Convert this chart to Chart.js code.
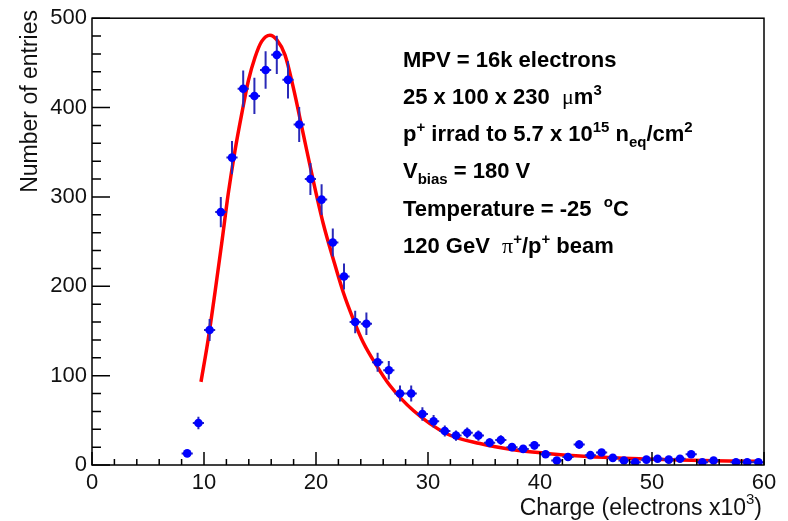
<!DOCTYPE html>
<html>
<head>
<meta charset="utf-8">
<script src="https://cdn.jsdelivr.net/npm/chart.js@4.4.1/dist/chart.umd.min.js"></script>
<style>
html, body { margin: 0; padding: 0; background: #fff; }
#wrap { width: 788px; height: 521px; }
</style>
</head>
<body>
<div id="wrap"><canvas id="myChart" width="788" height="521"></canvas></div>
<script>
// histogram bins, charge in units of 10^3 electrons (bin centres)
const binCenters = [8.5, 9.5, 10.5, 11.5, 12.5, 13.5, 14.5, 15.5, 16.5, 17.5,
  18.5, 19.5, 20.5, 21.5, 22.5, 23.5, 24.5, 25.5, 26.5, 27.5,
  28.5, 29.5, 30.5, 31.5, 32.5, 33.5, 34.5, 35.5, 36.5, 37.5,
  38.5, 39.5, 40.5, 41.5, 42.5, 43.5, 44.5, 45.5, 46.5, 47.5,
  48.5, 49.5, 50.5, 51.5, 52.5, 53.5, 54.5, 55.5, 56.5, 57.5,
  58.5, 59.5];
const entries = [13, 47, 151, 283, 344, 421, 413, 442, 459, 431,
  381, 320, 297, 249, 211, 160, 158, 115, 106, 80,
  80, 57, 49, 38, 33, 36, 33, 25, 28, 20,
  18, 22, 12, 5, 9, 23, 11, 14, 8, 5,
  3, 6, 7, 6, 7, 12, 3, 5, null, 3,
  3, 3];

// fitted curve
const fitX = [9.73, 10.38, 10.98, 11.58, 12.17, 12.77, 13.37, 13.96, 14.55, 15.15,
  15.89, 16.49, 17.23, 17.98, 18.87, 19.76, 20.65, 21.55, 22.44, 23.33,
  24.22, 25.42, 26.6, 28.69, 31.67, 34.64, 37.62, 40.6, 43.57, 46.5,
  49.5, 52.5, 55.5, 59.6];
const fitY = [93, 141, 193, 248, 304, 352, 393, 430, 456, 474,
  481, 476, 459, 422, 370, 318, 270, 230, 193, 163,
  137, 111, 89, 61, 35, 24, 17, 13, 10, 8,
  6.7, 5.6, 4.8, 4.1];

const xTickLabels = [0, 10, 20, 30, 40, 50, 60];
const yTickLabels = [0, 100, 200, 300, 400, 500];

// text box lines: [text, kind]
const infoLines = [
  [["MPV = 16k electrons", "n"]],
  [["25 x 100 x 230  ", "n"], ["\u03bc", "sym"], ["m", "n"], ["3", "sup"]],
  [["p", "n"], ["+", "sup"], [" irrad to 5.7 x 10", "n"], ["15", "sup"], [" n", "n"], ["eq", "sub"], ["/cm", "n"], ["2", "sup"]],
  [["V", "n"], ["bias", "sub"], [" = 180 V", "n"]],
  [["Temperature = -25  ", "n"], ["o", "sup"], ["C", "n"]],
  [["120 GeV  ", "n"], ["\u03c0", "sym"], ["+", "sup"], ["/p", "n"], ["+", "sup"], [" beam", "n"]]
];

const FONT = '"Liberation Sans", Arial, sans-serif';

function drawRich(ctx, x, y, parts) {
  parts.forEach(([txt, kind]) => {
    let font = 'bold 22px ' + FONT, dy = 0;
    if (kind === 'sup') { font = 'bold 15px ' + FONT; dy = -9; }
    if (kind === 'sub') { font = 'bold 15px ' + FONT; dy = 6; }
    if (kind === 'sym') { font = '22px "Liberation Serif", serif'; }
    ctx.font = font;
    ctx.fillText(txt, x, y + dy);
    x += ctx.measureText(txt).width;
  });
}

const rootStyle = {
  id: 'rootStyle',
  beforeDatasetDraw(chart, args) {
    if (args.index !== 0) return;
    const xs = chart.scales.x, ys = chart.scales.y, ctx = chart.ctx;
    ctx.save();
    ctx.strokeStyle = '#2a2ab8';
    ctx.lineWidth = 2;
    binCenters.forEach((c, i) => {
      const n = entries[i];
      if (n == null) return;
      const e = Math.sqrt(n);
      const px = xs.getPixelForValue(c), py = ys.getPixelForValue(n);
      ctx.beginPath();
      ctx.moveTo(xs.getPixelForValue(c - 0.5), py);
      ctx.lineTo(xs.getPixelForValue(c + 0.5), py);
      ctx.moveTo(px, ys.getPixelForValue(n - e));
      ctx.lineTo(px, ys.getPixelForValue(n + e));
      ctx.stroke();
    });
    ctx.restore();
  },
  afterDraw(chart) {
    const ctx = chart.ctx, a = chart.chartArea;
    const xs = chart.scales.x, ys = chart.scales.y;
    ctx.save();
    // frame
    ctx.strokeStyle = '#000';
    ctx.lineWidth = 1.5;
    ctx.strokeRect(a.left, a.top, a.right - a.left, a.bottom - a.top);
    // ticks inside the frame
    ctx.beginPath();
    for (let v = 0; v <= 60; v += 2) {
      const px = xs.getPixelForValue(v);
      const len = v % 10 === 0 ? 13 : 6;
      ctx.moveTo(px, a.bottom);
      ctx.lineTo(px, a.bottom - len);
    }
    for (let v = 0; v <= 500; v += 20) {
      const py = ys.getPixelForValue(v);
      const len = v % 100 === 0 ? 18 : 9;
      ctx.moveTo(a.left, py);
      ctx.lineTo(a.left + len, py);
    }
    ctx.stroke();

    // axis titles
    ctx.fillStyle = '#111';
    ctx.textBaseline = 'alphabetic';
    ctx.textAlign = 'left';
    const t1 = 'Charge (electrons x10', t2 = ')';
    ctx.font = '15px ' + FONT;
    const w3 = ctx.measureText('3').width;
    ctx.font = '23px ' + FONT;
    const w1 = ctx.measureText(t1).width, w2 = ctx.measureText(t2).width;
    let tx = 762 - (w1 + w3 + w2);
    ctx.fillText(t1, tx, 515);
    ctx.font = '15px ' + FONT;
    ctx.fillText('3', tx + w1, 504);
    ctx.font = '23px ' + FONT;
    ctx.fillText(t2, tx + w1 + w3, 515);

    ctx.save();
    ctx.translate(37, 10);
    ctx.rotate(-Math.PI / 2);
    ctx.textAlign = 'right';
    ctx.fillText('Number of entries', 0, 0);
    ctx.restore();

    // info text
    ctx.fillStyle = '#000';
    ctx.textAlign = 'left';
    const base = [67, 104, 141, 178, 216, 253];
    infoLines.forEach((parts, i) => drawRich(ctx, 403, base[i], parts));
    ctx.restore();
  }
};

const points = [];
binCenters.forEach((c, i) => { if (entries[i] != null) points.push({ x: c, y: entries[i] }); });
const curve = fitX.map((x, i) => ({ x, y: fitY[i] }));

new Chart(document.getElementById('myChart'), {
  type: 'scatter',
  data: {
    datasets: [
      {
        label: 'data',
        data: points,
        order: 0,
        pointRadius: 4.3,
        pointHoverRadius: 4.3,
        pointBackgroundColor: '#0000ff',
        pointBorderWidth: 0,
        showLine: false
      },
      {
        label: 'fit',
        data: curve,
        order: 1,
        showLine: true,
        pointRadius: 0,
        borderColor: '#ff0000',
        borderWidth: 3.5,
        cubicInterpolationMode: 'monotone'
      }
    ]
  },
  plugins: [rootStyle],
  options: {
    responsive: false,
    animation: false,
    layout: { padding: { left: 0, right: 24, top: 15, bottom: 0 } },
    plugins: { legend: { display: false }, tooltip: { enabled: false } },
    scales: {
      x: {
        type: 'linear',
        min: 0, max: 60,
        afterBuildTicks: s => { s.ticks = xTickLabels.map(v => ({ value: v })); },
        afterFit: s => { s.height = 56; },
        ticks: { color: '#111', font: { family: FONT, size: 22 }, padding: 5, maxRotation: 0 },
        grid: { display: false, drawTicks: false },
        border: { display: false }
      },
      y: {
        type: 'linear',
        min: 0, max: 500,
        afterBuildTicks: s => { s.ticks = yTickLabels.map(v => ({ value: v })); },
        afterFit: s => { s.width = 92; },
        ticks: { color: '#111', font: { family: FONT, size: 22 }, padding: 5 },
        grid: { display: false, drawTicks: false },
        border: { display: false }
      }
    }
  }
});
</script>
</body>
</html>
